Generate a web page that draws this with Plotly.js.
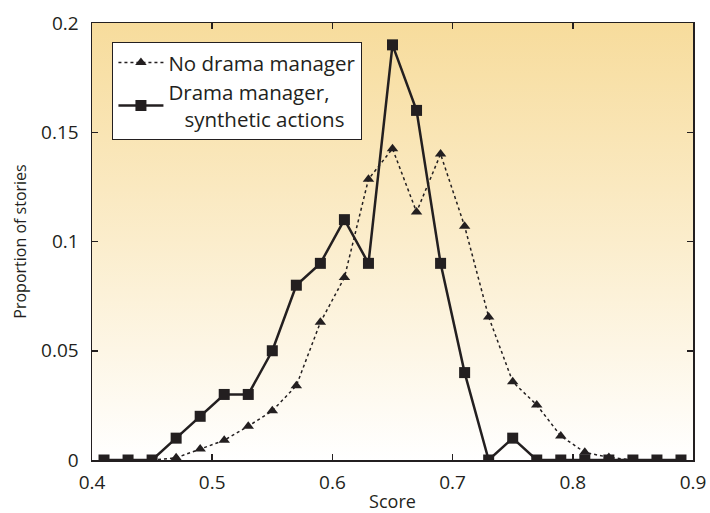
<!DOCTYPE html>
<html>
<head>
<meta charset="utf-8">
<script src="https://cdn.plot.ly/plotly-3.0.1.min.js"></script>
<style>html,body{margin:0;padding:0;background:#fff;}#chart{width:710px;height:513px;}</style>
</head>
<body>
<div id="chart"></div>
<script>
const scores = [0.41,0.43,0.45,0.47,0.49,0.51,0.53,0.55,0.57,0.59,0.61,0.63,0.65,0.67,0.69,0.71,0.73,0.75,0.77,0.79,0.81,0.83,0.85,0.87,0.89];
const noDramaManager = [0,0,0,0.001,0.005,0.009,0.0155,0.0225,0.034,0.063,0.0835,0.1285,0.1425,0.1135,0.14,0.107,0.0655,0.0358,0.0252,0.011,0.0035,0.0012,0,0,0];
const dramaManager = [0,0,0,0.01,0.02,0.03,0.03,0.05,0.08,0.09,0.11,0.09,0.19,0.16,0.09,0.04,0,0.01,0,0,0,0,0,0,0];
const seriesNames = ["No drama manager", "Drama manager,<br>\u00a0\u00a0\u00a0synthetic actions"];
const xTicks = [0.4,0.5,0.6,0.7,0.8,0.9];
const xTickText = ["0.4","0.5","0.6","0.7","0.8","0.9"];
const yTicks = [0,0.05,0.1,0.15,0.2];
const yTickText = ["0","0.05","0.1","0.15","0.2"];

const grad = 'data:image/svg+xml;utf8,' + encodeURIComponent(
 '<svg xmlns="http://www.w3.org/2000/svg" width="100" height="100" preserveAspectRatio="none">' +
 '<defs><linearGradient id="g" x1="0" y1="0" x2="0" y2="1">' +
 '<stop offset="0" stop-color="#f7dc9c"/><stop offset="0.5" stop-color="#fbedcc"/><stop offset="1" stop-color="#ffffff"/>' +
 '</linearGradient></defs><rect width="100" height="100" fill="url(#g)"/></svg>');

const font = "Open Sans, sans-serif";
const ink = "#231f20";
const data = [
 {x: scores, y: noDramaManager, name: seriesNames[0], mode: "lines+markers", type: "scatter",
  line: {color: ink, width: 1.5, dash: "dot"},
  marker: {symbol: "triangle-up", size: 10, color: ink}},
 {x: scores, y: dramaManager, name: seriesNames[1], mode: "lines+markers", type: "scatter",
  line: {color: ink, width: 2.5},
  marker: {symbol: "square", size: 11, color: ink}}
];
const axisCommon = {showgrid: false, zeroline: false, showline: true, mirror: "ticks", linecolor: ink, linewidth: 1.5,
  ticks: "inside", ticklen: 6, tickwidth: 1.5, tickcolor: ink, tickfont: {family: font, size: 19, color: ink}};
const layout = {
 width: 710, height: 513,
 margin: {l: 92, r: 17, t: 23, b: 53},
 paper_bgcolor: "#ffffff", plot_bgcolor: "rgba(0,0,0,0)",
 font: {family: font, color: ink},
 showlegend: true,
 legend: {x: 0.034, y: 0.957, xanchor: "left", yanchor: "top", bgcolor: "#ffffff", bordercolor: ink, borderwidth: 1,
   itemwidth: 45, font: {family: font, size: 20.5, color: ink}, tracegroupgap: 0},
 xaxis: Object.assign({}, axisCommon, {range: [0.4, 0.9], tickvals: xTicks, ticktext: xTickText, ticklabelstandoff: 5,
   title: {text: "Score", font: {family: font, size: 18}, standoff: 2}}),
 yaxis: Object.assign({}, axisCommon, {range: [0, 0.2], tickvals: yTicks, ticktext: yTickText, ticklabelstandoff: 8,
   title: {text: "Proportion of stories", font: {family: font, size: 16}, standoff: 10}}),
 images: [{source: grad, xref: "paper", yref: "paper", x: 0, y: 1, sizex: 1, sizey: 1, sizing: "stretch", layer: "below", xanchor: "left", yanchor: "top"}]
};
Plotly.newPlot("chart", data, layout, {displayModeBar: false, staticPlot: true});
</script>
</body>
</html>
